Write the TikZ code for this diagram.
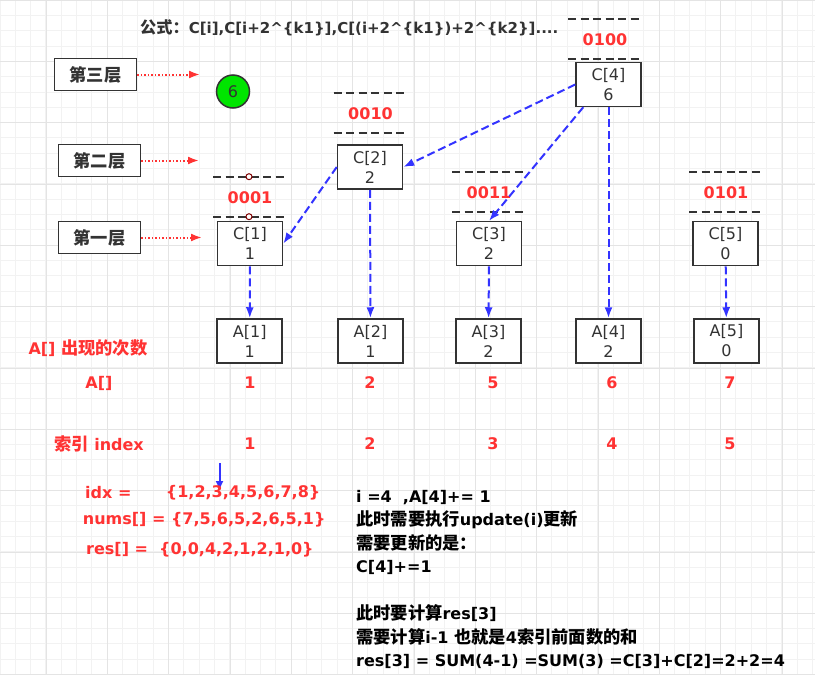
\documentclass[tikz,border=0pt]{standalone}
\usepackage{fontspec}
\setmainfont{DejaVu Sans}
\newfontfamily\cjk[Scale=1.08]{Noto Sans CJK SC}
\usetikzlibrary{arrows.meta}
\definecolor{myred}{HTML}{FF3333}
\definecolor{myblue}{HTML}{3333FF}
\definecolor{ink}{HTML}{333333}
\definecolor{minorgrid}{HTML}{F2F2F2}
\definecolor{majorgrid}{HTML}{E4E4E4}

\begin{document}
\begin{tikzpicture}[x=1pt, y=-1pt,
    every node/.style={font=\fontsize{16}{20}\selectfont, text=ink},
    cell/.style={draw=ink, line width=1.5pt, fill=white, minimum width=65pt, minimum height=44pt, inner sep=0pt, align=center},
    layer/.style={draw=ink, line width=1.5pt, fill=white, minimum width=82pt, minimum height=32pt, inner sep=0pt, font=\cjk\bfseries\fontsize{16}{20}\selectfont},
    redtxt/.style={text=myred, inner sep=0pt, font=\bfseries\fontsize{16}{20}\selectfont},
    sep/.style={draw=ink, line width=2pt, dash pattern=on 8pt off 4.5pt},
    upd/.style={draw=myblue, line width=2pt, dash pattern=on 8pt off 4pt, -{Latex[length=11pt,width=8pt]}},
    hint/.style={draw=myred, line width=2pt, dash pattern=on 1.5pt off 2pt, -{Latex[length=11pt,width=8pt]}}
]
\useasboundingbox (0,0) rectangle (815,675);
\fill[white] (0,0) rectangle (815,675);

% background grid
\foreach \i in {0,...,53} \draw[minorgrid, line width=1pt] (\i*15.333,0) -- (\i*15.333,675);
\foreach \i in {0,...,44} \draw[minorgrid, line width=1pt] (0,\i*15.333) -- (815,\i*15.333);
\foreach \i in {0,...,13} \draw[majorgrid, line width=1pt] (46+\i*61.333,0) -- (46+\i*61.333,675);
\foreach \i in {0,...,11} \draw[majorgrid, line width=1pt] (0,\i*61.333) -- (815,\i*61.333);

\node[anchor=west, inner sep=0pt, font=\bfseries\fontsize{15}{18}\selectfont] (title) at (140,28)
    {{\cjk 公式：}C[i],C[i+2\^{}\{k1\}],C[(i+2\^{}\{k1\})+2\^{}\{k2\}]....};

% layers
\node[layer] (l3) at (95.5,74.5) {第三层};
\node[layer] (l2) at (99.5,160.5) {第二层};
\node[layer] (l1) at (99.5,237.5) {第一层};
\coordinate (p3) at (200,74.5);
\coordinate (p2) at (199,160.5);
\coordinate (p1) at (202,237.5);
\draw[hint] (l3) -- (p3);
\draw[hint] (l2) -- (p2);
\draw[hint] (l1) -- (p1);

\node[circle, draw=ink, line width=1.5pt, fill=green!90!black, minimum size=33pt, inner sep=0pt] (g6) at (233,91.5) {6};

% binary separators
\foreach \cx/\ty/\code in {605/19/0100, 370.5/93.3/0010, 250/176.7/0001, 489/171.7/0011, 726/171.7/0101} {
    \draw[sep] (\cx-37,\ty) -- (\cx+37,\ty);
    \draw[sep] (\cx-37,\ty+40) -- (\cx+37,\ty+40);
    \node[redtxt] (b\code) at (\cx,\ty+20.5) {\code};
}
\node[circle, draw=red!50!black, fill=white, line width=1pt, minimum size=6pt, inner sep=0pt] (m1) at (249,176.7) {};
\node[circle, draw=red!50!black, fill=white, line width=1pt, minimum size=6pt, inner sep=0pt] (m2) at (249,216.7) {};

% tree C
\node[cell] (c1) at (250,243.7) {C[1]\\1};
\node[cell] (c2) at (370,167) {C[2]\\2};
\node[cell] (c3) at (489,243.7) {C[3]\\2};
\node[cell] (c4) at (608.5,84.5) {C[4]\\6};
\node[cell] (c5) at (725.5,243.7) {C[5]\\0};

% array A
\node[cell] (a1) at (249.7,341) {A[1]\\1};
\node[cell] (a2) at (370.5,341) {A[2]\\1};
\node[cell] (a3) at (488.5,341) {A[3]\\2};
\node[cell] (a4) at (608.5,341) {A[4]\\2};
\node[cell] (a5) at (726.5,341) {A[5]\\0};

\draw[upd] (c4.west) -- (c2.east);
\draw[upd] ([xshift=8pt]c4.south west) -- (c3.north);
\draw[upd] (c4) -- (a4);
\draw[upd] (c2.west) -- (c1.east);
\draw[upd] (c1) -- (a1);
\draw[upd] (c2) -- (a2);
\draw[upd] (c3) -- (a3);
\draw[upd] (c5) -- (a5);

% rows
\node[redtxt] (lcnt) at (88,348) {A[] {\cjk 出现的次数}};
\node[redtxt] (larr) at (99,383) {A[]};
\node[redtxt] (lidx) at (99,444) {{\cjk 索引} index};
\foreach \x/\v/\k in {250/1/1, 370/2/2, 493/5/3, 612/6/4, 730/7/5} {
    \node[redtxt] (v\k) at (\x,383) {\v};
    \node[redtxt] (i\k) at (\x,444) {\k};
}

% example
\coordinate (q0) at (219.5,463);
\coordinate (q1) at (219.5,491);
\draw[draw=myblue, line width=2pt, -{Latex[length=10pt,width=8pt]}] (q0) -- (q1);
\node[redtxt, anchor=west] (idx) at (85,492.7) {idx =};
\node[redtxt, anchor=west] (idxv) at (165.7,492.7) {\{1,2,3,4,5,6,7,8\}};
\node[redtxt, anchor=west] (nums) at (82.7,520) {nums[] = \{7,5,6,5,2,6,5,1\}};
\node[redtxt, anchor=west] (res) at (86,550) {res[] =~~\{0,0,4,2,1,2,1,0\}};

\node[anchor=north west, align=left, inner sep=0pt, text=black, font=\bfseries\fontsize{16}{23.5}\selectfont] (note) at (356,490)
    {i =4~~,A[4]+= 1\\
     {\cjk 此时需要执行}update(i){\cjk 更新}\\
     {\cjk 需要更新的是：}\\
     C[4]+=1\\
     \mbox{}\\
     {\cjk 此时要计算}res[3]\\
     {\cjk 需要计算}i-1 {\cjk 也就是}4{\cjk 索引前面数的和}\\
     res[3] = SUM(4-1) =SUM(3) =C[3]+C[2]=2+2=4};
\end{tikzpicture}
\end{document}
